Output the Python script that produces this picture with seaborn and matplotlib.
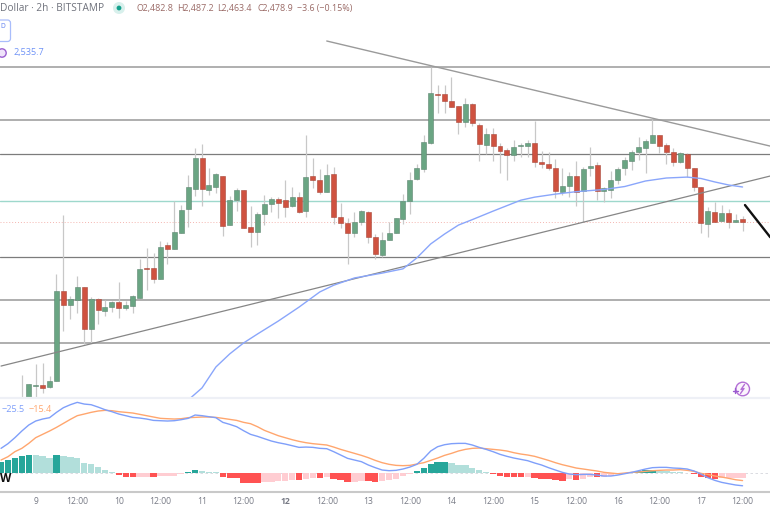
#!/usr/bin/env python3
import numpy as np
import pandas as pd
import matplotlib
matplotlib.use("Agg")
import matplotlib.pyplot as plt
from matplotlib.patches import Circle, FancyBboxPatch
import seaborn as sns

# 2h candles, bar 0 is day 9 00:00
bars = list(range(-2, 103))
opens = [2170, 2169, 2208.6, 2209, 2207, 2216, 2364, 2341.5, 2350, 2371, 2302, 2351, 2332, 2338, 2346,
         2336, 2340, 2353.5, 2402, 2402, 2384.7, 2440.7, 2433, 2460.5, 2499.5, 2532.4, 2583, 2530.8, 2536, 2553.8,
         2473, 2514, 2531, 2470, 2462, 2490.8, 2507, 2516.4, 2513.8, 2504.4, 2519, 2496.7, 2553, 2548, 2528,
         2557, 2485.8, 2476.4, 2459.5, 2478.6, 2495, 2453, 2423.8, 2448.5, 2460.5, 2483.5, 2513, 2549, 2565, 2608.6,
         2689, 2688.8, 2676.8, 2669, 2643, 2671.8, 2638, 2604.8, 2623, 2604, 2596, 2588, 2602.7, 2604, 2608.6,
         2576.9, 2573.6, 2567.5, 2527.5, 2537.3, 2554, 2529, 2567, 2572, 2529, 2530.8, 2547.7, 2567, 2579, 2593,
         2600, 2608, 2620.8, 2604.8, 2593.8, 2576.9, 2589.5, 2566.5, 2536, 2474.3, 2495, 2480, 2492.9, 2477.6, 2482.8]
closes = [2185, 2211, 2210, 2205, 2216, 2365, 2341, 2351, 2370.6, 2302, 2351, 2333, 2339, 2346, 2336.5,
          2341.5, 2356, 2400.7, 2400.7, 2384, 2437.4, 2433.6, 2461, 2497.8, 2535, 2583, 2532, 2538.5, 2557, 2472,
          2514, 2530.8, 2468.7, 2461, 2491, 2507.7, 2516, 2510, 2503, 2519, 2494.5, 2552.6, 2548, 2528, 2556,
          2487, 2476, 2460.5, 2478.6, 2495.7, 2454, 2426, 2449, 2460, 2484.7, 2512.7, 2548, 2566.5, 2609.8, 2690,
          2687, 2676.8, 2667.9, 2643, 2671.8, 2640.5, 2606.5, 2623, 2603, 2595.5, 2589, 2602, 2604.8, 2608.6, 2576.9,
          2573, 2566.5, 2529, 2537.3, 2553.8, 2527, 2565, 2571, 2529.6, 2533.6, 2547, 2565.8, 2580, 2592.8, 2601,
          2612, 2620.8, 2604, 2593.8, 2576.9, 2591, 2566.5, 2535.7, 2476.4, 2496, 2477.6, 2492.9, 2477.6, 2481.4, 2478.9]
highs = [2226, 2211, 2244, 2246.5, 2225, 2392.5, 2489.6, 2356, 2388.7, 2371, 2355, 2353, 2350, 2348.5, 2380,
         2348, 2358, 2418, 2435, 2426.6, 2447.3, 2445.7, 2513, 2506, 2555.5, 2600, 2606, 2567, 2559, 2553.8,
         2521, 2533.6, 2531, 2504.4, 2495, 2522.5, 2519.7, 2519.7, 2547, 2535, 2528, 2621, 2583, 2565, 2573.6,
         2568, 2509, 2484, 2494, 2497.8, 2495.7, 2458, 2462, 2477.6, 2484.7, 2523.7, 2560, 2573.6, 2621, 2733.7,
         2703.6, 2703.6, 2717, 2669, 2683, 2674, 2641.5, 2632, 2632, 2608, 2600, 2613, 2608.6, 2613, 2643.8,
         2595.5, 2593.8, 2581, 2566.5, 2561, 2578.5, 2568, 2602, 2576.9, 2536, 2562, 2568, 2584.6, 2596.6, 2617.5,
         2614, 2647, 2620.8, 2607.6, 2599.4, 2593, 2591, 2566.5, 2536, 2502.3, 2511.5, 2506, 2499, 2491, 2487.2]
lows = [2165, 2160, 2180, 2197, 2205, 2216, 2299, 2318.4, 2327.8, 2277, 2279, 2311, 2324, 2330, 2319.6,
        2333, 2329, 2353, 2366, 2377, 2384.7, 2409, 2433, 2460.5, 2469.4, 2521, 2504, 2522.5, 2526, 2455,
        2473, 2496.7, 2468.7, 2437.4, 2440, 2473, 2495, 2484, 2487, 2503, 2493, 2487, 2533.6, 2523.7, 2528,
        2474.8, 2467.7, 2409, 2454, 2473, 2444, 2416.7, 2421, 2448, 2460, 2474.8, 2492, 2547, 2560.9, 2606.5,
        2658, 2658, 2667, 2623, 2635, 2636, 2578.5, 2590, 2579, 2559, 2548, 2579, 2584.6, 2584.6, 2568,
        2566.5, 2563.7, 2517, 2522.5, 2518.7, 2504.4, 2478.6, 2554, 2514.3, 2511.5, 2518, 2540.6, 2555.4, 2563.7, 2580,
        2558, 2607.6, 2592, 2573.6, 2570, 2574.7, 2551.7, 2529.6, 2460.5, 2454, 2477.6, 2480, 2467.7, 2477.6, 2463.4]

# 50 period average
ma_bars = [22, 24, 26, 28, 30, 32, 35, 38, 41, 43, 46, 50, 53, 55, 57, 59, 61, 63, 66, 70, 72, 75, 78, 82, 85, 88, 91, 94, 96, 98, 100, 102]
ma_vals = [2185, 2205, 2239.4, 2261, 2279, 2293.7, 2315, 2338, 2363, 2374, 2386, 2394, 2401, 2419, 2442, 2458.3,
           2473, 2482, 2496, 2514, 2519, 2524, 2528, 2531.6, 2536.5, 2545.6, 2550.5, 2552, 2549.7, 2544, 2539, 2535.7]

level_prices = [2733.7, 2646, 2589.5, 2420.5, 2349.7, 2279.4]
teal_level = 2512.7
last_close = 2478.9

# (bar, price) ends of the drawn lines
falling_x, falling_y = [42, 106], [2776, 2603]
rising_x, rising_y = [-5, 106], [2241, 2553.8]
arrow_x, arrow_y = [102.35, 106], [2506, 2453]

# MACD pane, bars -5 to 102
macd_bars = list(range(-5, 103))
macd = [47.5, 56.6, 68.3, 81.3, 93, 100.8, 104.7, 107.3, 117.7, 126.8, 132.6, 137.2, 133.9, 132.6, 128, 122.9, 119, 114.4,
        111.2, 107.9, 106.6, 104.7, 102, 101.4, 100.8, 101.4, 103.4, 106, 112.5, 111.2, 109.2, 107.3, 98.2, 94.3, 89.7, 81.9,
        74.8, 70.9, 66.3, 61.8, 58.5, 55.9, 52.7, 49.4, 50, 49.4, 47.5, 46.8, 41, 34.5, 28, 24.7, 21.5, 15,
        9.8, 5.2, 3.9, 4.6, 7.2, 11, 16.3, 28, 42.3, 50.7, 54.6, 56.6, 57.2, 57.2, 54, 49.4, 45.5, 41,
        35.8, 31.9, 28.6, 26, 23.4, 18.9, 15, 9.8, 5.2, 0.7, -2.6, -3.9, -3.3, -3.3, -4.6, -6.5, -6.5, -4.6,
        -2, 0.7, 3.9, 7.2, 9.8, 10.4, 10.4, 9.1, 8.5, 7.2, 3.3, -2.6, -9.8, -15, -18.9, -21.5, -24, -25.5]
signal = [24.7, 31.2, 41, 47.5, 57.2, 68.3, 74.8, 81.3, 88.4, 96.2, 104, 111.2, 114.4, 117.7, 120.3, 121.6, 120.9, 119,
          117.7, 116.4, 113.8, 111.2, 108.6, 106, 105.3, 104.7, 105.3, 107.3, 107.9, 108.6, 108.6, 107.9, 106, 104, 102, 98.2,
          95.6, 89.7, 82.6, 77.4, 72.2, 68.3, 64.4, 61.1, 58.5, 56.6, 55.3, 54, 50, 45.5, 41.6, 37.7, 33.8, 29.3,
          24, 19.5, 16.3, 14.3, 13.7, 14.3, 16.9, 19.5, 24, 28.6, 33.8, 37.7, 42.3, 45.5, 47.5, 48.1, 46.8, 45.5,
          44.2, 42.3, 39, 36.4, 34.5, 31.9, 28, 24, 19.5, 15.6, 12.4, 9.1, 7.2, 5.2, 3.3, 0.7, -0.7, -2,
          -0.7, 0.7, 1.3, 2.6, 3.9, 4.6, 5.2, 5.2, 5.9, 4.6, 2.6, -1.3, -3.3, -6.5, -8.5, -11, -13.7, -15.4]
hist = [21.5, 24, 28, 32.5, 35, 34.5, 32.5, 28, 33.8, 31.9, 29.9, 28, 19.5, 16.3, 10.4, 5.2, 0.7, -5.2,
        -7.8, -9.1, -8.5, -8.5, -9.1, -7.2, -7.2, -6.5, -3.3, 1.3, 5.2, 2.6, 1.3, 0.7, -7.8, -10.4, -11, -19.5,
        -19.8, -20, -18.2, -17.5, -16.9, -16.5, -14.5, -15, -13, -9.8, -10.2, -7.8, -12.4, -15, -18.2, -17.5, -16, -16.4,
        -18.9, -16, -15, -11.7, -7.2, -3.3, 3.3, 9.1, 16.3, 20.8, 20.8, 19.5, 15.6, 14.3, 9.8, 4.6, 2, -3.3,
        -6.5, -8.5, -9, -9.3, -9, -11, -11.7, -12.4, -14.3, -16, -13, -15, -12.4, -8.8, -9.1, -8.5, -5.9, -3.3,
        -0.7, 0.7, 2.6, 5.2, 5.9, 3.9, 3.3, 2, 1, -1, -3.3, -8.5, -11, -13, -11, -10.4, -10.3, -10.1]

tick_bars = list(range(0, 103, 6))
tick_labels = ["9", "12:00", "10", "12:00", "11", "12:00", "12", "12:00", "13", "12:00",
               "14", "12:00", "15", "12:00", "16", "12:00", "17", "12:00"]

UP = "#6aa583"
DOWN = "#cf5240"
WICK = "#c8c8c8"
TXT = "#787b86"
LEVEL_COLORS = ["#a2a2a2", "#999999", "#7c7c7c", "#7c7c7c", "#999999", "#999999"]
LEVEL_WIDTHS = [1.2, 1.1, 0.9, 0.9, 1.1, 1.1]


def hist_shade(values):
    # same rule as the chart: strong colour while the bar keeps growing away from zero
    shades = []
    prev = values[0] - 1
    for v in values:
        if v >= 0:
            shades.append("strong up" if v >= prev else "pale up")
        else:
            shades.append("pale down" if v >= prev else "strong down")
        prev = v
    return shades


def plot_candles(ax, df):
    ax.vlines(df["bar"], df["low"], df["high"], color=WICK, lw=0.9, zorder=2)
    for rising, color in [(True, UP), (False, DOWN)]:
        part = df[(df["close"] >= df["open"]) == rising]
        sns.barplot(
            x=part["bar"].values,
            y=(part["close"] - part["open"]).values,
            bottom=part["open"].values,
            native_scale=True,
            width=0.72,
            color=color,
            saturation=1,
            edgecolor="#5d8570" if rising else "#a8473a",
            linewidth=0.4,
            errorbar=None,
            zorder=3,
            ax=ax,
        )


def plot_price(ax):
    df = pd.DataFrame({"bar": bars, "open": opens, "high": highs, "low": lows, "close": closes})

    for level, c, w in zip(level_prices, LEVEL_COLORS, LEVEL_WIDTHS):
        ax.axhline(level, color=c, lw=w, zorder=1)
    ax.axhline(teal_level, color="#9ed8cc", lw=1, zorder=1)
    ax.axhline(last_close, color="#f4b6b0", lw=0.7, ls=(0, (1, 2)), zorder=1)

    plot_candles(ax, df)

    sns.lineplot(x=ma_bars, y=ma_vals, color="#8aa6fb", lw=1, estimator=None, zorder=5, ax=ax)
    sns.lineplot(x=falling_x, y=falling_y, color="#9a9a9a", lw=1, estimator=None, zorder=4, ax=ax)
    sns.lineplot(x=rising_x, y=rising_y, color="#868686", lw=0.9, estimator=None, zorder=4, ax=ax)
    sns.lineplot(x=arrow_x, y=arrow_y, color="#111111", lw=1.7, estimator=None, zorder=6, ax=ax)

    ax.set_ylim(2188.4, 2843.5)


def plot_macd(ax):
    df = pd.DataFrame({"bar": macd_bars, "hist": hist, "shade": hist_shade(hist)})
    sns.barplot(
        data=df,
        x="bar",
        y="hist",
        hue="shade",
        palette={"strong up": "#26a69a", "pale up": "#b2dfdb", "strong down": "#ff5252", "pale down": "#ffcdd2"},
        native_scale=True,
        dodge=False,
        width=0.92,
        saturation=1,
        linewidth=0,
        errorbar=None,
        legend=False,
        ax=ax,
    )
    sns.lineplot(x=macd_bars, y=signal, color="#ffa66e", lw=1, estimator=None, zorder=4, ax=ax)
    sns.lineplot(x=macd_bars, y=macd, color="#7f9ffa", lw=1, estimator=None, zorder=5, ax=ax)
    ax.axhline(0, color="#d4d6dc", lw=0.6, ls=(0, (3, 3)), zorder=0)
    ax.set_ylim(-35.7, 145.7)


def add_header(fig):
    # overlay in pixel units for the legend strip and small icons
    ov = fig.add_axes([0, 0, 1, 1], zorder=10)
    ov.set_xlim(0, 770)
    ov.set_ylim(508, 0)
    ov.axis("off")

    ov.text(0, 8.5, "Dollar · 2h · BITSTAMP", fontsize=7.3, color="#6f727c", va="center")
    ov.add_patch(Circle((119, 8), 6, color="#d8f0ec", lw=0))
    ov.add_patch(Circle((119, 8), 2.4, color="#13a08c", lw=0))

    ohlc = [(136.5, "O2,482.8"), (177.5, "H2,487.2"), (217.5, "L2,463.4"), (257, "C2,478.9"), (297, "−3.6 (−0.15%)")]
    for x, s in ohlc:
        ov.text(x, 8.5, s, fontsize=6.4, color="#9a6a66", va="center")

    ov.add_patch(FancyBboxPatch((-8, 20), 18.5, 21.5, boxstyle="round,pad=0,rounding_size=3",
                                fc="white", ec="#a9bdfb", lw=0.9))
    ov.text(0, 27, "D", fontsize=4.8, color="#5b7cf0", va="center")
    ov.add_patch(Circle((2, 53), 4.2, fc="#efe3fa", ec="#9b5fd0", lw=1))
    ov.text(13, 53, "2,535.7", fontsize=6.6, color="#6f93f7", va="center")

    ov.text(2, 409, "−25.5", fontsize=6.6, color="#7f9ffa", va="center")
    ov.text(28.5, 409, "−15.4", fontsize=6.6, color="#ffa66e", va="center")
    ov.text(0, 478.5, "W", fontsize=8.5, color="#111111", fontweight="bold", va="center", ha="left")

    # replay icon: ring, small bolt and plus
    icon = "#b36fd6"
    ov.add_patch(Circle((742.7, 389), 6.8, fc="#fbf4fd", ec=icon, lw=1))
    ov.plot([744.5, 741, 744, 740.5], [384.5, 389.5, 388.5, 393.5], color=icon, lw=1)
    ov.plot([732.5, 737.5], [390.7, 390.7], color="#9a5ad0", lw=1)
    ov.plot([735, 735], [388.2, 393.2], color="#9a5ad0", lw=1)

    # pane separators
    ov.plot([0, 770], [398, 398], color="#eef0f6", lw=1.6)
    ov.plot([0, 770], [491.5, 491.5], color="#c9c9c9", lw=1.5)


def main():
    sns.set_theme(style="white")
    plt.rcParams["font.family"] = ["Open Sans", "DejaVu Sans"]

    fig = plt.figure(figsize=(7.7, 5.08), dpi=100, facecolor="white")
    ax_price = fig.add_axes([0, 110 / 508, 1, 398 / 508])
    ax_macd = fig.add_axes([0, 17 / 508, 1, 93 / 508])

    plot_price(ax_price)
    plot_macd(ax_macd)

    for ax in (ax_price, ax_macd):
        ax.set_xlim(-5.15, 105.96)
        sns.despine(ax=ax, left=True, bottom=True)
        ax.set_yticks([])
        ax.set_xlabel("")
        ax.set_ylabel("")
    ax_price.set_xticks([])

    ax_macd.set_xticks(tick_bars)
    ax_macd.set_xticklabels(tick_labels, fontsize=6.2, color=TXT)
    ax_macd.tick_params(axis="x", length=0, pad=4.5)
    for lab in ax_macd.get_xticklabels():
        if lab.get_text() == "12":
            lab.set_fontweight("bold")

    add_header(fig)
    fig.savefig("out.png", dpi=100)
    plt.close(fig)


if __name__ == "__main__":
    main()
